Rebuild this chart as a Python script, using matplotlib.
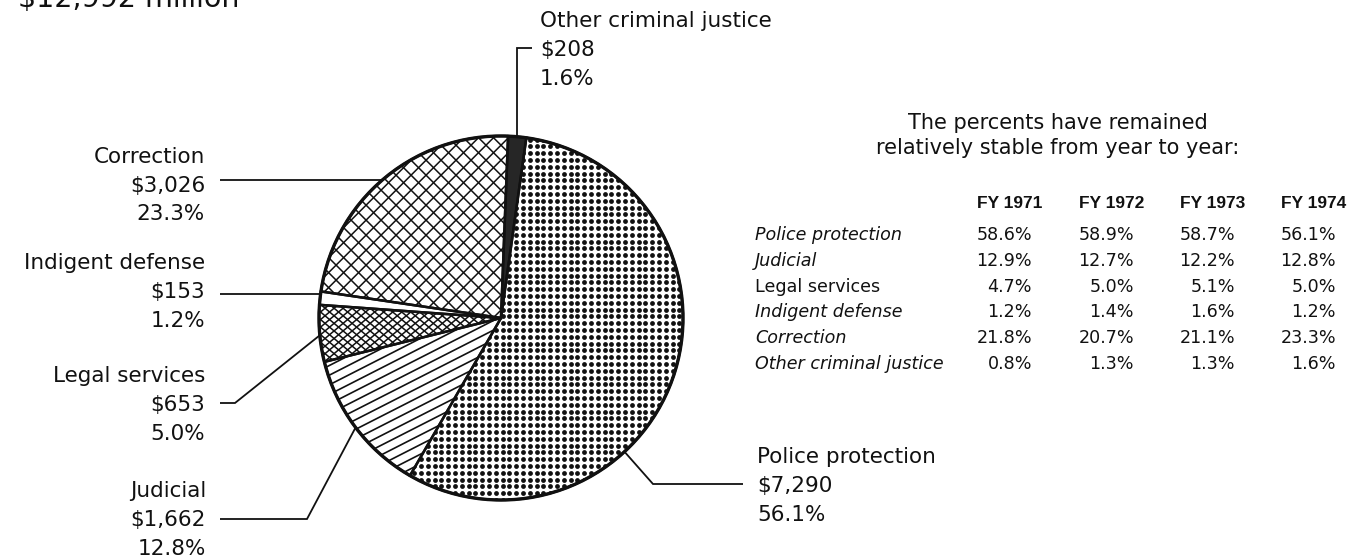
import numpy as np
import matplotlib
matplotlib.use("Agg")
import matplotlib.pyplot as plt
from matplotlib.patches import Wedge, Circle
from matplotlib.collections import LineCollection

# FY 1974 criminal justice expenditure by function (millions of dollars)
categories = ["Police protection", "Judicial", "Legal services",
              "Indigent defense", "Correction", "Other criminal justice"]
amounts = [7290, 1662, 653, 153, 3026, 208]
shares = [56.1, 12.8, 5.0, 1.2, 23.3, 1.6]
total_label = "$12,992 million"

# Percent shares by fiscal year
years = ["FY 1971", "FY 1972", "FY 1973", "FY 1974"]
table_rows = ["Police protection", "Judicial", "Legal services",
              "Indigent defense", "Correction", "Other criminal justice"]
fy1971 = [58.6, 12.9, 4.7, 1.2, 21.8, 0.8]
fy1972 = [58.9, 12.7, 5.0, 1.4, 20.7, 1.3]
fy1973 = [58.7, 12.2, 5.1, 1.6, 21.1, 1.3]
fy1974 = [56.1, 12.8, 5.0, 1.2, 23.3, 1.6]

plt.rcParams["font.family"] = ["DejaVu Sans"]

W, H = 1348, 559
fig = plt.figure(figsize=(W / 100, H / 100), dpi=100)
ax = fig.add_axes([0, 0, 1, 1])


def Y(p):
    """Convert a top-down pixel row into the y-up axis coordinate."""
    return H - p


cx, cy, R = 501, Y(318), 182
INK = "#111111"

wedges, _ = ax.pie(amounts, startangle=82, counterclock=False,
                   center=(cx, cy), radius=R, colors=["white"] * len(amounts),
                   wedgeprops=dict(linewidth=0, edgecolor="none"), frame=False)
ax.set_xlim(0, W)
ax.set_ylim(0, H)
ax.set_aspect("equal")
ax.axis("off")


def hatch_lines(wedge, angle_deg, spacing, lw):
    th = np.radians(angle_deg)
    d = np.array([np.cos(th), np.sin(th)])
    n = np.array([-np.sin(th), np.cos(th)])
    L = 1.6 * R
    segs = []
    for o in np.arange(-L, L, spacing):
        p0 = (cx + o * n[0] - L * d[0], cy + o * n[1] - L * d[1])
        p1 = (cx + o * n[0] + L * d[0], cy + o * n[1] + L * d[1])
        segs.append([p0, p1])
    lc = LineCollection(segs, colors=INK, linewidths=lw, zorder=2)
    ax.add_collection(lc, autolim=False)
    lc.set_clip_path(wedge)


def hatch_dots(wedge, spacing, size):
    g = np.arange(-R, R + spacing, spacing)
    gx, gy = np.meshgrid(g, g)
    sc = ax.scatter((cx + gx).ravel(), (cy + gy).ravel(), s=size, c=INK,
                    linewidths=0, zorder=2)
    sc.set_clip_path(wedge)


w_pol, w_jud, w_leg, w_ind, w_cor, w_oth = wedges

hatch_dots(w_pol, 6.8, 12)
hatch_lines(w_jud, 27, 8.6, 1.2)
hatch_lines(w_leg, 40, 5.8, 1.1)
hatch_lines(w_leg, -40, 5.8, 1.1)
hatch_lines(w_cor, 45, 10.6, 1.1)
hatch_lines(w_cor, -45, 10.6, 1.1)
w_oth.set_facecolor("#262626")

for w in wedges:
    ax.add_patch(Wedge((cx, cy), R, w.theta1, w.theta2, fill=False,
                       ec=INK, lw=1.8, zorder=3))
ax.add_patch(Circle((cx, cy), R, fill=False, ec=INK, lw=2.4, zorder=3))


def anchor(w, frac):
    a = np.radians(w.theta1 + frac * (w.theta2 - w.theta1))
    return cx + R * np.cos(a), cy + R * np.sin(a)


LW = 1.3


def leader(xs, ys):
    ax.plot(xs, ys, color=INK, lw=LW, solid_capstyle="butt",
            solid_joinstyle="miter", zorder=4)


def label_block(x, rows, lines, ha):
    for yb, s in zip(rows, lines):
        ax.text(x, Y(yb), s, ha=ha, va="baseline", fontsize=15.5, color=INK)


def block(i):
    return [categories[i], f"${amounts[i]:,}", f"{shares[i]:.1f}%"]


# Correction
a = anchor(w_cor, 0.51)
leader([220, a[0]], [a[1], a[1]])
label_block(205, [163, 192, 220], block(4), "right")

# Indigent defense
a = anchor(w_ind, 0.2)
leader([220, a[0]], [a[1], a[1]])
label_block(205, [269, 298, 327], block(3), "right")

# Legal services
a = anchor(w_leg, 0.53)
leader([220, 235, a[0]], [Y(403), Y(403), a[1]])
label_block(205, [382, 411, 440], block(2), "right")

# Judicial
a = anchor(w_jud, 0.5)
leader([220, 307, a[0]], [Y(519), Y(519), a[1]])
label_block(206, [497, 526, 555], block(1), "right")

# Police protection
a = anchor(w_pol, 0.36)
leader([a[0], 653, 743], [a[1], Y(484), Y(484)])
label_block(757, [463, 492, 521], block(0), "left")

# Other criminal justice
a = anchor(w_oth, 0.5)
leader([a[0], a[0], 532], [a[1], Y(48), Y(48)])
label_block(540, [27, 56, 85], block(5), "left")

# Total heading, running off the top edge of the page
ax.text(18, Y(7), total_label, ha="left", va="baseline", fontsize=20.5,
        color=INK)

# Year-to-year table
ax.text(1058, Y(129), "The percents have remained", ha="center",
        va="baseline", fontsize=15, color=INK)
ax.text(1058, Y(154), "relatively stable from year to year:", ha="center",
        va="baseline", fontsize=15, color=INK)

col_right = [1032, 1134, 1235, 1336]
row_base = [240, 266, 292, 317, 343, 369]
for xr, yr in zip(col_right, years):
    ax.text(xr + 10, Y(208), yr, ha="right", va="baseline", fontsize=12.5,
            fontweight="bold", family=["Liberation Sans", "DejaVu Sans"],
            color=INK)
italic_rows = [True, True, False, True, True, True]
for yb, name, it in zip(row_base, table_rows, italic_rows):
    ax.text(755, Y(yb), name, ha="left", va="baseline", fontsize=12.6,
            style="italic" if it else "normal", color=INK)
for xr, col in zip(col_right, [fy1971, fy1972, fy1973, fy1974]):
    for yb, v in zip(row_base, col):
        ax.text(xr, Y(yb), f"{v:.1f}%", ha="right", va="baseline",
                fontsize=12.6, color=INK)

fig.savefig("out.png", dpi=100, facecolor="white")
